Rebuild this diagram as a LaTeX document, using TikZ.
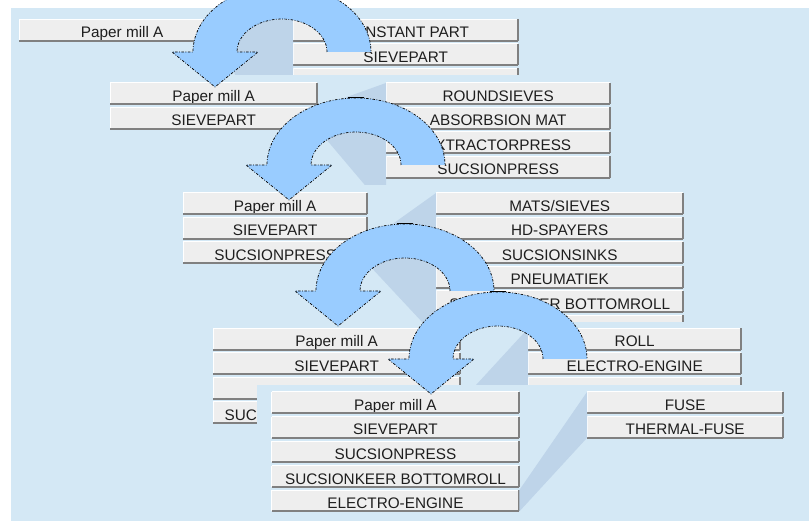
\documentclass[tikz,border=0pt]{standalone}
\usepackage{fontspec}
\setmainfont{Liberation Sans}
\definecolor{panelbg}{RGB}{212,232,245}
\definecolor{wedgegray}{RGB}{190,212,233}
\definecolor{arrowblue}{RGB}{153,204,255}
\definecolor{btnface}{RGB}{238,238,238}
\definecolor{btnshade}{RGB}{128,128,128}
\definecolor{btntext}{RGB}{30,30,30}
\tikzset{
  btn/.style={fill=btnface, text=btntext, inner sep=0pt, anchor=north west,
    minimum height=21pt, text height=15.6pt, text depth=0pt,
    font=\fontsize{15.3}{18}\selectfont,
    append after command={
      (\tikzlastnode.south west) edge[draw=white, line width=1pt] (\tikzlastnode.north west)
      (\tikzlastnode.north west) edge[draw=white, line width=1pt] (\tikzlastnode.north east)
      (\tikzlastnode.south west) edge[draw=btnshade, line width=2pt] (\tikzlastnode.south east)
      (\tikzlastnode.south east) edge[draw=btnshade, line width=2pt] (\tikzlastnode.north east)}},
  panel/.style={fill=panelbg},
  wedge/.style={fill=wedgegray},
  turn/.style={fill=arrowblue, draw=black, line width=0.7pt,
    dash pattern=on 2.5pt off 1.5pt on 0.8pt off 1.5pt}
}
\begin{document}
\begin{tikzpicture}[x=1pt,y=-1pt]
\useasboundingbox (0,0) rectangle (809,521);
\clip (0,0) rectangle (809,521);
\fill[white] (0,0) rectangle (809,521);
% level 1
\fill[panel] (11,8) rectangle (809,521);
\node[btn, minimum width=206pt] (p1a) at (19,19.5) {Paper mill A};
\node[btn, minimum width=225pt] (c1a) at (293,19.5) {CONSTANT PART};
\node[btn, minimum width=225pt] (c1b) at (293,44) {SIEVEPART};
\node[btn, minimum width=225pt] (c1c) at (293,68.5) {};
\coordinate (w1) at (293,280);
\fill[wedge] (p1a.north east)--(c1a.north west)--(w1)--(p1a.south east)--cycle;
% level 2
\fill[panel] (102,75) rectangle (809,521);
\node[btn, minimum width=207pt] (p2a) at (110,83) {Paper mill A};
\node[btn, minimum width=207pt] (p2b) at (110,107.5) {SIEVEPART};
\node[btn, minimum width=224pt] (c2a) at (386,83) {ROUNDSIEVES};
\node[btn, minimum width=224pt] (c2b) at (386,107.5) {ABSORBSION MAT};
\node[btn, minimum width=224pt] (c2c) at (386,132) {EXTRACTORPRESS};
\node[btn, minimum width=224pt] (c2d) at (386,156.5) {SUCSIONPRESS};
\coordinate (w2) at (386,210);
\fill[wedge] (p2b.north east)--(c2a.north west)--(w2)--(p2b.south east)--cycle;
% level 3
\fill[panel] (175,185) rectangle (809,521);
\node[btn, minimum width=184pt] (p3a) at (183,193) {Paper mill A};
\node[btn, minimum width=184pt] (p3b) at (183,217.5) {SIEVEPART};
\node[btn, minimum width=184pt] (p3c) at (183,242) {SUCSIONPRESS};
\node[btn, minimum width=247pt] (c3a) at (436,193) {MATS/SIEVES};
\node[btn, minimum width=247pt] (c3b) at (436,217.5) {HD-SPAYERS};
\node[btn, minimum width=247pt] (c3c) at (436,242) {SUCSIONSINKS};
\node[btn, minimum width=247pt] (c3d) at (436,266.5) {PNEUMATIEK};
\node[btn, minimum width=247pt] (c3e) at (436,291) {SUCSIONKEER BOTTOMROLL};
\node[btn, minimum width=247pt] (c3f) at (436,315.5) {};
\fill[wedge] (p3c.north east)--(c3a.north west)--(c3f.south west)--(p3c.south east)--cycle;
% level 4
\fill[panel] (205,322) rectangle (809,521);
\node[btn, minimum width=247pt] (p4a) at (213,328.5) {Paper mill A};
\node[btn, minimum width=247pt] (p4b) at (213,353) {SIEVEPART};
\node[btn, minimum width=247pt] (p4c) at (213,377.5) {};
\node[btn, minimum width=247pt] (p4d) at (213,402) {\makebox[247pt][l]{\hspace{11.5pt}SUC}};
\node[btn, minimum width=213pt] (c4a) at (528,328.5) {ROLL};
\node[btn, minimum width=213pt] (c4b) at (528,353) {ELECTRO-ENGINE};
\node[btn, minimum width=213pt] (c4c) at (528,377.5) {};
\fill[wedge] (p4d.north east)--(c4a.north west)--(c4c.south west)--(p4d.south east)--cycle;
% level 5
\fill[panel] (257,385) rectangle (809,521);
\node[btn, minimum width=247.5pt] (p5a) at (271.5,392) {Paper mill A};
\node[btn, minimum width=247.5pt] (p5b) at (271.5,416.5) {SIEVEPART};
\node[btn, minimum width=247.5pt] (p5c) at (271.5,441) {SUCSIONPRESS};
\node[btn, minimum width=247.5pt] (p5d) at (271.5,465.5) {SUCSIONKEER BOTTOMROLL};
\node[btn, minimum width=247.5pt] (p5e) at (271.5,490) {ELECTRO-ENGINE};
\node[btn, minimum width=196pt] (c5a) at (587,392) {FUSE};
\node[btn, minimum width=196pt] (c5b) at (587,416.5) {THERMAL-FUSE};
\fill[wedge] (p5e.north east)--(c5a.north west)--(c5b.south west)--(p5e.south east)--cycle;
% turning arrows
\foreach \cx/\cy in {282/52, 356/165, 405/291, 498/359}{
  \begin{scope}[shift={(\cx,\cy)}]
  \filldraw[turn] (45,0) arc[start angle=0, end angle=180, x radius=45pt, y radius=33pt]
    --(-24,0)--(-67,35)--(-110,0)--(-89,0)
    arc[start angle=180, end angle=0, x radius=89pt, y radius=67pt];
  \draw[line width=1pt] (-8,-67)--(8,-67);
  \end{scope}
}
\end{tikzpicture}
\end{document}
